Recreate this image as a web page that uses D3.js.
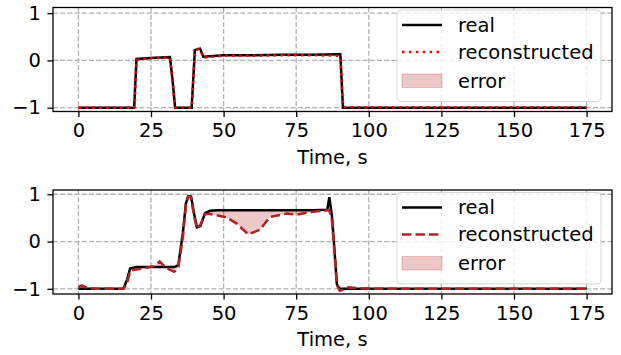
<!DOCTYPE html>
<html>
<head>
<meta charset="utf-8">
<script src="https://cdn.jsdelivr.net/npm/d3@7"></script>
<style>
  body { margin: 0; background: #fff; }
  svg { display: block; font-family: "DejaVu Sans", sans-serif; }
</style>
</head>
<body>
<div id="chart"></div>
<script>
// panel 1 (top)
const timeA  = [0, 19.2, 20, 25, 31.5, 32.4, 33.3, 39, 40.1, 41, 41.9, 43, 50, 60, 70, 80, 89.6, 90.2, 91.1, 92, 175];
const realA  = [-1, -1, 0.03, 0.05, 0.07, -0.4, -1, -1, 0.22, 0.24, 0.25, 0.08, 0.11, 0.11, 0.12, 0.12, 0.13, 0.13, -1, -1, -1];
const reconA = [-1, -1, 0.01, 0.05, 0.06, -0.45, -0.99, -1, 0.19, 0.24, 0.23, 0.06, 0.1, 0.1, 0.11, 0.11, 0.1, 0.05, -0.97, -0.99, -0.99];

// panel 2 (bottom)
const timeB  = [0, 1.1, 3, 6, 15.5, 16.8, 17.8, 20, 23, 26, 28, 30, 33, 34.4, 36, 37, 37.8, 38.8, 39.8, 40.8, 42, 43.6, 45.3, 48, 51, 54.5, 58.5, 62.5, 66, 71.7, 75.2, 80.8, 85.7, 86.4, 87.3, 88.2, 89, 90, 91, 93, 100, 175];
const realB  = [-1, -1, -1, -1, -1, -0.8, -0.57, -0.54, -0.54, -0.54, -0.54, -0.54, -0.54, -0.5, 0.2, 0.8, 0.96, 0.95, 0.6, 0.3, 0.33, 0.6, 0.65, 0.66, 0.66, 0.66, 0.66, 0.66, 0.66, 0.66, 0.66, 0.66, 0.67, 0.94, 0.55, -0.2, -0.9, -1, -1, -1, -1, -1];
const reconB = [-0.97, -0.93, -0.98, -1, -1, -0.88, -0.62, -0.59, -0.56, -0.52, -0.42, -0.55, -0.64, -0.55, 0.1, 0.75, 0.95, 0.93, 0.55, 0.27, 0.35, 0.58, 0.58, 0.55, 0.51, 0.38, 0.15, 0.25, 0.52, 0.59, 0.57, 0.63, 0.66, 0.66, 0.45, -0.25, -0.92, -1.04, -1.02, -0.97, -1, -1];

const xTicks = [0, 25, 50, 75, 100, 125, 150, 175];
const yTicks = [-1, 0, 1];
const xLabel = 'Time, s';
const legendLabels = ['real', 'reconstructed', 'error'];

const W = 621, H = 355;
const fs = 19.5;
const svg = d3.select('#chart').append('svg').attr('width', W).attr('height', H);

const x = d3.scaleLinear().domain([-8.75, 183.75]).range([53, 612]);

const panels = [
  { t: timeA, real: realA, recon: reconA, top: 7.5, bottom: 111.5, ydom: [-1.08, 1.12], dash: '2.5,4.4', color: 'red' },
  { t: timeB, real: realB, recon: reconB, top: 190, bottom: 294, ydom: [-1.11, 1.09], dash: '9.4,4.1', color: '#b22222' }
];

const fillColor = 'rgba(178,34,34,0.25)';

panels.forEach(p => {
  const y = d3.scaleLinear().domain(p.ydom).range([p.bottom, p.top]);
  const g = svg.append('g');
  const data = p.t.map((t, i) => ({ t: t, r: p.real[i], c: p.recon[i] }));

  // grid
  g.selectAll('.vg').data(xTicks).enter().append('line')
    .attr('x1', d => x(d)).attr('x2', d => x(d))
    .attr('y1', p.top).attr('y2', p.bottom)
    .attr('stroke', '#b0b0b0').attr('stroke-width', 1.3).attr('stroke-dasharray', '5,2.2');
  g.selectAll('.hg').data(yTicks).enter().append('line')
    .attr('x1', 53).attr('x2', 612)
    .attr('y1', d => y(d)).attr('y2', d => y(d))
    .attr('stroke', '#b0b0b0').attr('stroke-width', 1.3).attr('stroke-dasharray', '5,2.2');

  // error fill
  const area = d3.area().x(d => x(d.t)).y0(d => y(d.r)).y1(d => y(d.c));
  g.append('path').datum(data).attr('d', area).attr('fill', fillColor).attr('stroke', 'none');

  // lines
  const lineReal = d3.line().x(d => x(d.t)).y(d => y(d.r));
  const lineRecon = d3.line().x(d => x(d.t)).y(d => y(d.c));
  g.append('path').datum(data).attr('d', lineReal)
    .attr('fill', 'none').attr('stroke', 'black').attr('stroke-width', 2.5);
  g.append('path').datum(data).attr('d', lineRecon)
    .attr('fill', 'none').attr('stroke', p.color).attr('stroke-width', 2.5)
    .attr('stroke-dasharray', p.dash);

  // axes
  const xa = g.append('g').attr('transform', `translate(0,${p.bottom})`)
    .call(d3.axisBottom(x).tickValues(xTicks).tickSize(5.6).tickPadding(6.4).tickSizeOuter(0));
  const ya = g.append('g').attr('transform', 'translate(53,0)')
    .call(d3.axisLeft(y).tickValues(yTicks).tickSize(5.6).tickPadding(6.4).tickSizeOuter(0)
      .tickFormat(d => d < 0 ? '\u2212' + Math.abs(d) : d));
  [xa, ya].forEach(a => {
    a.select('.domain').remove();
    a.selectAll('line').attr('stroke', '#000').attr('stroke-width', 1.3);
    a.selectAll('text').attr('font-size', fs).attr('fill', '#000').attr('font-family', 'DejaVu Sans');
  });

  // spines
  g.append('rect').attr('x', 53).attr('y', p.top).attr('width', 612 - 53).attr('height', p.bottom - p.top)
    .attr('fill', 'none').attr('stroke', '#000').attr('stroke-width', 1.3);

  g.append('text').attr('x', 332.5).attr('y', p.bottom + 52).attr('text-anchor', 'middle')
    .attr('font-size', fs).text(xLabel);

  // legend
  const lx = 397, ly = p.top + 2.5, lw = 204, lh = 91.5;
  const lg = g.append('g');
  lg.append('rect').attr('x', lx).attr('y', ly).attr('width', lw).attr('height', lh).attr('rx', 4)
    .attr('fill', 'rgba(255,255,255,0.8)').attr('stroke', 'rgba(204,204,204,0.8)').attr('stroke-width', 1);
  const rows = [ly + 15, ly + 42, ly + 71];
  lg.append('line').attr('x1', 402).attr('x2', 442).attr('y1', rows[0]).attr('y2', rows[0])
    .attr('stroke', 'black').attr('stroke-width', 2.5);
  lg.append('line').attr('x1', 402).attr('x2', 442).attr('y1', rows[1]).attr('y2', rows[1])
    .attr('stroke', p.color).attr('stroke-width', 2.5).attr('stroke-dasharray', p.dash);
  lg.append('rect').attr('x', 402).attr('y', rows[2] - 7).attr('width', 40).attr('height', 13.5)
    .attr('fill', fillColor).attr('stroke', fillColor);
  lg.selectAll('.lt').data(legendLabels).enter().append('text')
    .attr('x', 458).attr('y', (d, i) => rows[i]).attr('dy', '0.35em')
    .attr('font-size', fs).text(d => d);
});
</script>
</body>
</html>
